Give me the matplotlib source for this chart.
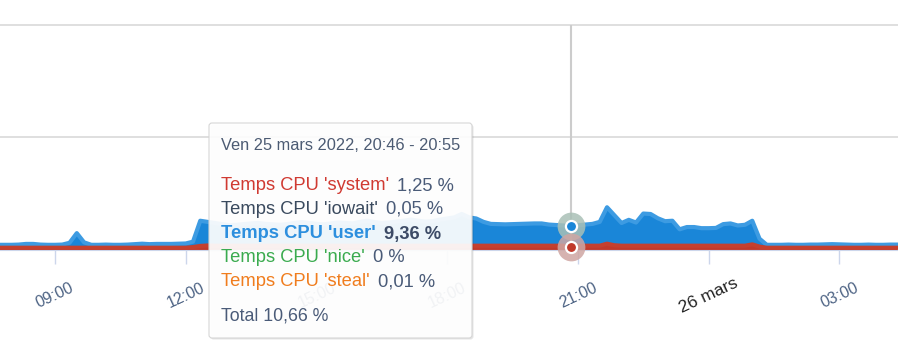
import numpy as np
import matplotlib.pyplot as plt
from matplotlib.patches import FancyBboxPatch
from matplotlib.transforms import IdentityTransform

plt.rcParams['font.family'] = ['Liberation Sans', 'DejaVu Sans']

# CPU time (%) sampled every 10 min, from 25 mars 07:40 to 26 mars 04:20
start_hour = 7 + 40 / 60
step_hours = 10 / 60

system = [
    1.0, 1.0, 1.0, 1.0, 1.0, 1.0, 1.0, 1.0, 1.0, 1.0,
    1.0, 1.0, 1.0, 1.0, 1.0, 1.0, 1.0, 1.0, 1.0, 1.0,
    1.0, 1.0, 1.0, 1.0, 1.0, 1.0, 1.0, 1.3, 1.8, 2.0,
    1.9, 1.9, 1.9, 1.9, 1.9, 1.9, 1.9, 1.9, 1.9, 1.9,
    1.9, 1.9, 1.9, 1.9, 1.9, 1.9, 1.9, 1.9, 1.9, 1.9,
    1.9, 1.9, 1.9, 1.9, 1.9, 1.9, 1.9, 1.9, 1.9, 1.9,
    1.9, 1.9, 1.9, 1.9, 1.9, 1.9, 1.9, 1.9, 1.9, 1.9,
    1.9, 1.9, 1.9, 1.9, 1.9, 1.9, 1.9, 1.9, 1.9, 1.25,
    1.9, 1.9, 1.9, 1.9, 2.8, 2.1, 1.9, 1.9, 1.9, 1.9,
    1.9, 1.9, 1.9, 1.9, 1.9, 1.9, 1.9, 1.9, 1.9, 1.9,
    1.9, 1.9, 1.9, 1.9, 2.5, 1.5, 1.0, 1.0, 1.0, 1.0,
    1.0, 1.0, 1.0, 1.0, 1.0, 1.0, 1.0, 1.0, 1.0, 1.0,
    1.0, 1.0, 1.0, 1.0, 1.0,
]
user = [
    1.3, 1.3, 1.3, 1.4, 1.7, 1.7, 1.4, 1.3, 1.3, 1.4,
    2.2, 6.5, 2.4, 1.3, 1.3, 1.4, 1.3, 1.3, 1.4, 1.6,
    1.8, 1.6, 1.7, 1.7, 1.7, 1.8, 1.9, 2.4, 11.2, 10.5,
    10.1, 9.6, 9.1, 9.3, 9.6, 9.9, 10.1, 9.7, 9.5, 9.3,
    9.6, 10.1, 10.5, 10.1, 9.7, 9.5, 9.9, 10.3, 10.1, 9.9,
    10.6, 11.1, 10.5, 10.1, 10.3, 10.7, 11.1, 11.6, 11.1, 10.7,
    10.9, 11.6, 12.1, 12.6, 14.1, 12.6, 12.1, 10.6, 9.7, 9.6,
    9.5, 9.6, 9.7, 9.8, 9.9, 9.9, 9.4, 9.2, 9.0, 9.36,
    9.1, 9.4, 9.7, 10.6, 16.2, 13.4, 10.1, 11.5, 10.3, 14.3,
    14.1, 12.2, 10.9, 11.1, 7.3, 8.3, 8.3, 7.8, 7.8, 7.9,
    9.6, 9.9, 9.0, 9.3, 10.5, 3.5, 1.3, 1.3, 1.3, 1.4,
    1.3, 1.3, 1.4, 1.4, 1.5, 1.6, 1.5, 1.4, 1.3, 1.3,
    1.4, 1.3, 1.3, 1.4, 1.4,
]

tick_hours = [9, 12, 15, 18, 21, 24, 27]
tick_labels = ['09:00', '12:00', '15:00', '18:00', '21:00', '26 mars', '03:00']

hover_index = 79
tooltip_title = 'Ven 25 mars 2022, 20:46 - 20:55'
tooltip_names = ["Temps CPU 'system'", "Temps CPU 'iowait'", "Temps CPU 'user'",
                 "Temps CPU 'nice'", "Temps CPU 'steal'"]
tooltip_values = ['1,25 %', '0,05 %', '9,36 %', '0 %', '0,01 %']
tooltip_colors = ['#d03a32', '#3a4a5e', '#2d8fde', '#3aab4f', '#f07d1e']
tooltip_total = 'Total 10,66 %'

W, H = 898, 363
fig = plt.figure(figsize=(W / 100, H / 100), dpi=100)
ax = fig.add_axes([0, (H - 250) / H, 1, 225 / H])

hours = start_hour + step_hours * np.arange(len(user))
sys_arr = np.array(system)
top = sys_arr + np.array(user)

ax.fill_between(hours, 0, sys_arr, color='#c0392b', lw=0, zorder=2)
ax.fill_between(hours, sys_arr, top, color='#1a86d8', lw=0, zorder=2)
ax.plot(hours, top, color='#3d9be2', lw=3, zorder=3, solid_joinstyle='round')
ax.plot(hours, sys_arr, color='#c4402f', lw=3, zorder=3)

ax.set_xlim(7.738, 28.344)
ax.set_ylim(0, 100)
ax.set_yticks([50, 100])
ax.yaxis.grid(True, color='#d9d9d9', lw=1.2)
for gl in ax.get_ygridlines():
    gl.set_clip_on(False)
ax.tick_params(axis='y', left=False, labelleft=False)
for s in ['top', 'left', 'right']:
    ax.spines[s].set_visible(False)
ax.spines['bottom'].set_color('#ccd6eb')

ax.set_xticks(tick_hours)
ax.set_xticklabels(tick_labels)
ax.tick_params(axis='x', length=10, width=1, color='#ccd6eb', pad=23,
               labelsize=11.5, labelcolor='#4d6384')
for lab in ax.get_xticklabels():
    lab.set_rotation(25)
    lab.set_ha('center')
    lab.set_va('center')
    lab.set_rotation_mode('anchor')
    if lab.get_text() == '26 mars':
        lab.set_color('#222222')
        lab.set_fontsize(12.5)

# crosshair and hovered points
t_hover = hours[hover_index]
ax.axvline(t_hover, color='#cccccc', lw=1.5, zorder=4)
ax.plot(t_hover, top[hover_index], 'o', ms=20, color='#a9c0b6', alpha=0.85,
        mew=0, zorder=5, clip_on=False)
ax.plot(t_hover, sys_arr[hover_index], 'o', ms=20, color='#cfa6a3', alpha=0.85,
        mew=0, zorder=5, clip_on=False)
ax.plot(t_hover, top[hover_index], 'o', ms=8, mfc='#1a86d8', mec='white',
        mew=1.6, zorder=6)
ax.plot(t_hover, sys_arr[hover_index], 'o', ms=8, mfc='#c0392b', mec='white',
        mew=1.6, zorder=6, clip_on=False)

# tooltip (pixel coordinates)
px = IdentityTransform()
bx, by, bw, bh = 209, 123, 263, 215
shadow = FancyBboxPatch((bx + 1.5, H - by - bh - 1.5), bw, bh,
                        boxstyle='round,pad=0,rounding_size=3',
                        fc=(0, 0, 0, 0.10), ec='none', transform=px)
box = FancyBboxPatch((bx, H - by - bh), bw, bh,
                     boxstyle='round,pad=0,rounding_size=3',
                     fc=(1, 1, 1, 0.93), ec='#d6d6d6', lw=0.8, transform=px)
fig.add_artist(shadow)
fig.add_artist(box)

fs = 13.2
val_color = '#4a5b78'
fig.text(221, H - 146, tooltip_title, transform=px, va='center',
         fontsize=11.8, color='#4c5b73')
renderer = fig.canvas.get_renderer()
row_y = [186, 209.5, 234, 257.5, 282]
for name, val, col, y in zip(tooltip_names, tooltip_values, tooltip_colors, row_y):
    weight = 'bold' if 'user' in name else 'normal'
    t = fig.text(221, H - y, name, transform=px, va='center', fontsize=fs,
                 color=col, fontweight=weight)
    x1 = t.get_window_extent(renderer).x1
    fig.text(x1 + 8, H - y, val, transform=px, va='center', fontsize=fs,
             color='#3d4b66' if weight == 'bold' else val_color, fontweight=weight)
fig.text(221, H - 316, tooltip_total, transform=px, va='center',
         fontsize=12.8, color=val_color)

fig.savefig('out.png', dpi=100)
